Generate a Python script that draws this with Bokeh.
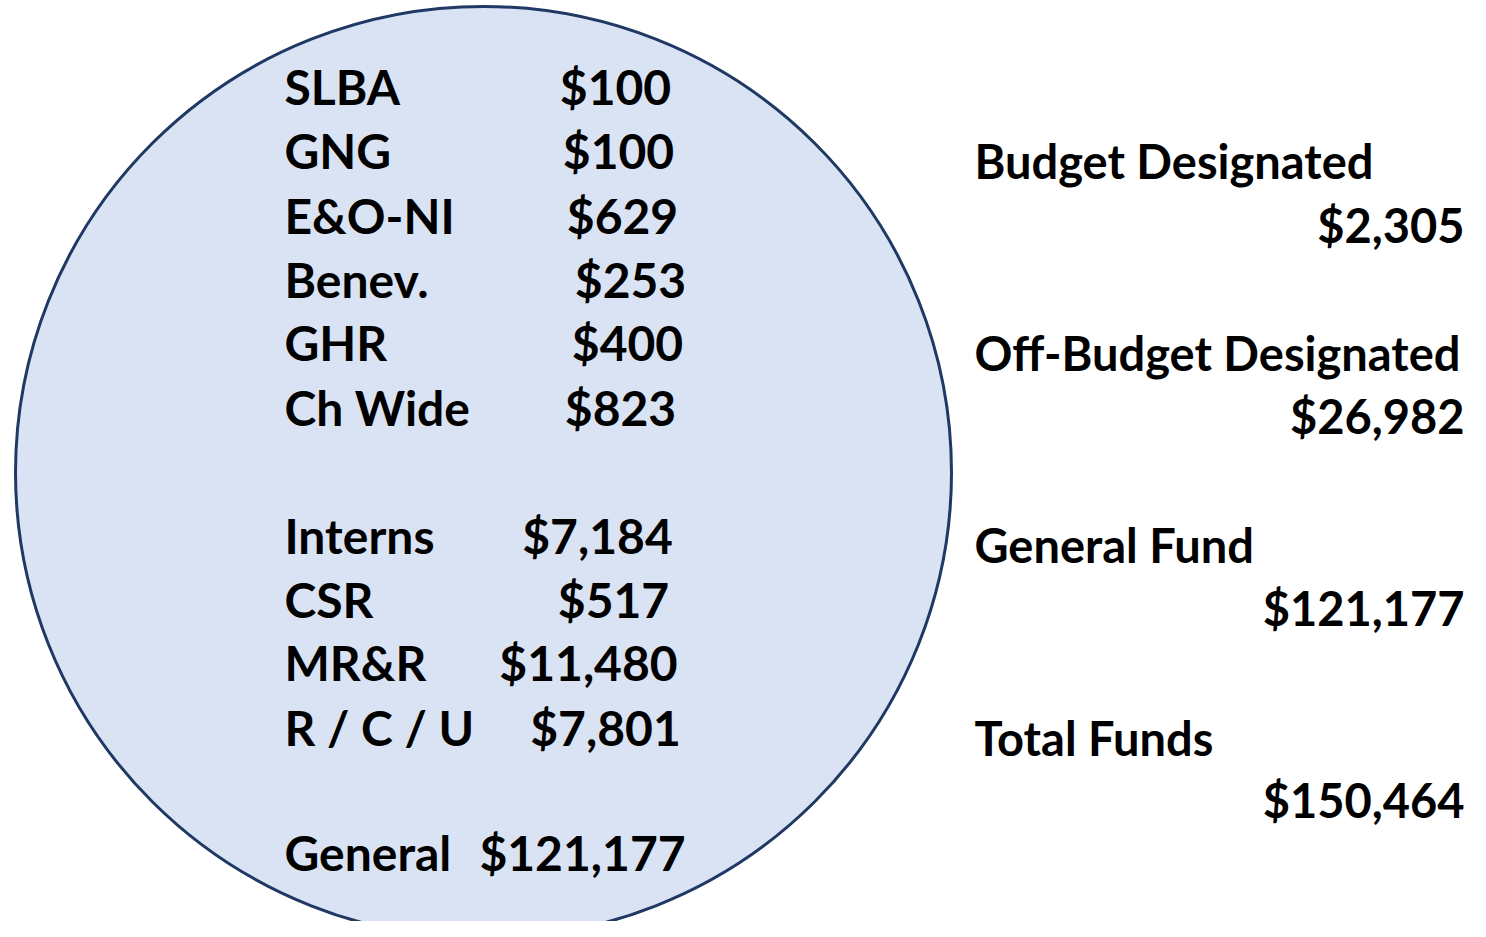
from bokeh.plotting import figure
from bokeh.models import Range1d, ColumnDataSource
from bokeh.core.properties import value
from bokeh.embed import file_html
from bokeh.resources import INLINE

# ---- data ----
fund_names = ["SLBA", "GNG", "E&O-NI", "Benev.", "GHR", "Ch Wide",
              "Interns", "CSR", "MR&R", "R / C / U", "General"]
fund_amounts = [100, 100, 629, 253, 400, 823, 7184, 517, 11480, 7801, 121177]

summary_names = ["Budget Designated", "Off-Budget Designated", "General Fund", "Total Funds"]
summary_amounts = [2305, 26982, 121177, 150464]

# ---- layout (page pixel coordinates) ----
TEXT_DY = -18  # correction for rendered baseline
name_x = 284
fund_baselines = [104, 168, 233, 297, 360, 425, 553, 617, 680, 745, 870]
amount_centers = [615, 618, 622, 630, 627, 620, 597, 613, 588, 605, 582]

sum_x = 974
sum_right = 1464
sum_name_baselines = [178, 370, 562, 755]
sum_amt_baselines = [242, 433, 625, 817]

FONT = value("Lato")
SIZE = "48px"
SIZE_R = "47px"

W, H = 1470, 921
p = figure(width=W, height=H, output_backend="svg", toolbar_location=None,
           x_range=Range1d(0, W), y_range=Range1d(H, 0),
           min_border=0)
p.axis.visible = False
p.grid.visible = False
p.outline_line_color = None
p.background_fill_color = "white"
p.border_fill_color = "white"

# circle
p.ellipse(x=[483], y=[472], width=[936], height=[932],
          fill_color="#DAE3F3", line_color="#1F3864", line_width=3)

fund_src = ColumnDataSource(dict(
    name=fund_names,
    amt=["${:,}".format(v) for v in fund_amounts],
    nx=[name_x] * len(fund_names),
    ax=amount_centers,
    y=[b + TEXT_DY for b in fund_baselines],
))
p.text(x="nx", y="y", text="name", source=fund_src, text_font=FONT,
       text_font_size=SIZE, text_font_style="bold", text_color="black",
       text_align="left", text_baseline="alphabetic")
p.text(x="ax", y="y", text="amt", source=fund_src, text_font=FONT,
       text_font_size=SIZE, text_font_style="bold", text_color="black",
       text_align="center", text_baseline="alphabetic")

sum_src = ColumnDataSource(dict(
    name=summary_names,
    amt=["${:,}".format(v) for v in summary_amounts],
    nx=[sum_x] * 4,
    ax=[sum_right] * 4,
    ny=[b + TEXT_DY for b in sum_name_baselines],
    ay=[b + TEXT_DY for b in sum_amt_baselines],
))
p.text(x="nx", y="ny", text="name", source=sum_src, text_font=FONT,
       text_font_size=SIZE_R, text_font_style="bold", text_color="black",
       text_align="left", text_baseline="alphabetic")
p.text(x="ax", y="ay", text="amt", source=sum_src, text_font=FONT,
       text_font_size=SIZE_R, text_font_style="bold", text_color="black",
       text_align="right", text_baseline="alphabetic")

open("out.html", "w").write(file_html(p, INLINE))
